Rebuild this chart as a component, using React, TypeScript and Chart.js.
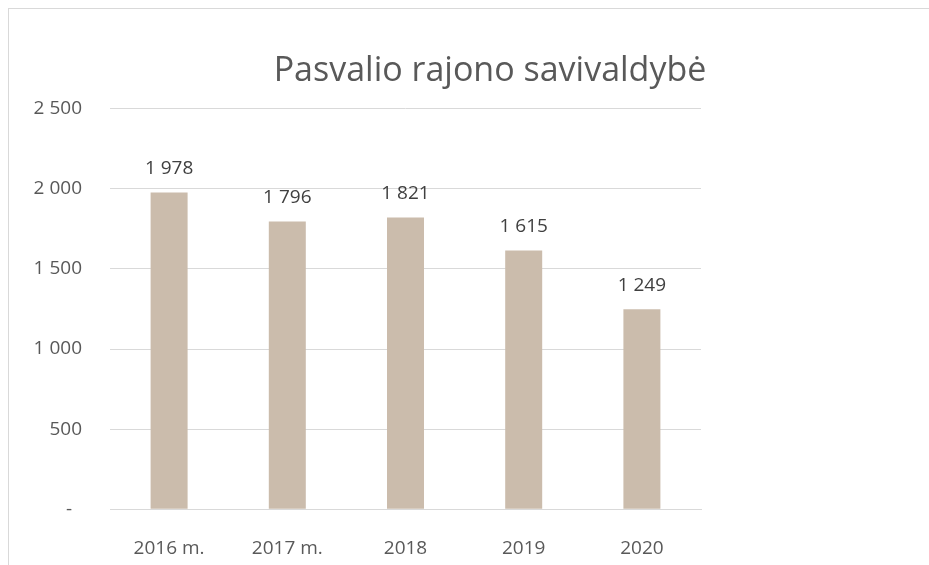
import React, { useEffect, useRef } from "react";
import { Chart, registerables } from "chart.js";

Chart.register(...registerables);

const categories = ["2016 m.", "2017 m.", "2018", "2019", "2020"];
const values = [1978, 1796, 1821, 1615, 1249];
const valueLabels = ["1 978", "1 796", "1 821", "1 615", "1 249"];
const yTickValues = [0, 500, 1000, 1500, 2000, 2500];
const yTickLabels = ["-  ", "500", "1 000", "1 500", "2 000", "2 500"];
const titleText = "Pasvalio rajono savivaldybė";

const FONT = "'Open Sans', 'DejaVu Sans', sans-serif";

const dataLabelPlugin = {
  id: "dataLabels",
  afterDatasetsDraw(chart: any) {
    const ctx = chart.ctx;
    const meta = chart.getDatasetMeta(0);
    ctx.save();
    ctx.font = `19px ${FONT}`;
    ctx.fillStyle = "#404040";
    ctx.textAlign = "center";
    ctx.textBaseline = "middle";
    meta.data.forEach((bar: any, i: number) => {
      ctx.fillText(valueLabels[i], bar.x, bar.y - 24);
    });
    ctx.restore();
  },
};

export default function App() {
  const ref = useRef<HTMLCanvasElement | null>(null);

  useEffect(() => {
    document.body.style.overflow = "hidden";
    document.documentElement.style.overflow = "hidden";
    const canvas = ref.current!;
    const chart = new Chart(canvas, {
      type: "bar",
      data: {
        labels: categories,
        datasets: [
          {
            data: values,
            backgroundColor: "#CBBCAC",
            barPercentage: 0.313,
            categoryPercentage: 1,
          },
        ],
      },
      options: {
        animation: false,
        responsive: false,
        maintainAspectRatio: false,
        layout: { padding: { left: 0, right: 0, top: 0, bottom: 21 } },
        plugins: {
          legend: { display: false },
          tooltip: { enabled: false },
          title: {
            display: true,
            text: titleText,
            color: "#595959",
            font: { family: FONT, size: 34, weight: "normal" },
            padding: { top: 42, bottom: 17 },
          },
        },
        scales: {
          x: {
            grid: { display: false, drawTicks: false },
            border: { display: true, color: "#D9D9D9", width: 1 },
            ticks: {
              color: "#595959",
              font: { family: FONT, size: 19 },
              padding: 28,
              maxRotation: 0,
            },
          },
          y: {
            min: 0,
            max: 2500,
            afterBuildTicks(scale: any) {
              scale.ticks = yTickValues.map((v) => ({ value: v }));
            },
            afterFit(scale: any) {
              scale.width = 101;
            },
            grid: { color: "#D9D9D9", drawTicks: false, lineWidth: 1 },
            border: { display: false },
            ticks: {
              color: "#595959",
              font: { family: FONT, size: 19 },
              padding: 28,
              callback: (v: any) => {
                const idx = yTickValues.indexOf(Number(v));
                return idx >= 0 ? yTickLabels[idx] : "";
              },
            },
          },
          yRight: {
            position: "right",
            min: 0,
            max: 2500,
            grid: { display: false, drawTicks: false },
            border: { display: false },
            ticks: { display: false },
            afterFit(scale: any) {
              scale.width = 270;
            },
          },
        },
      },
      plugins: [dataLabelPlugin],
    });
    return () => chart.destroy();
  }, []);

  return (
    <div
      style={{
        position: "fixed",
        left: 8,
        top: 8,
        right: 0,
        bottom: 0,
        overflow: "hidden",
        borderTop: "1px solid #D9D9D9",
        borderLeft: "1px solid #D9D9D9",
        background: "#fff",
      }}
    >
      <canvas ref={ref} width={962} height={600} style={{ display: "block" }} />
    </div>
  );
}
